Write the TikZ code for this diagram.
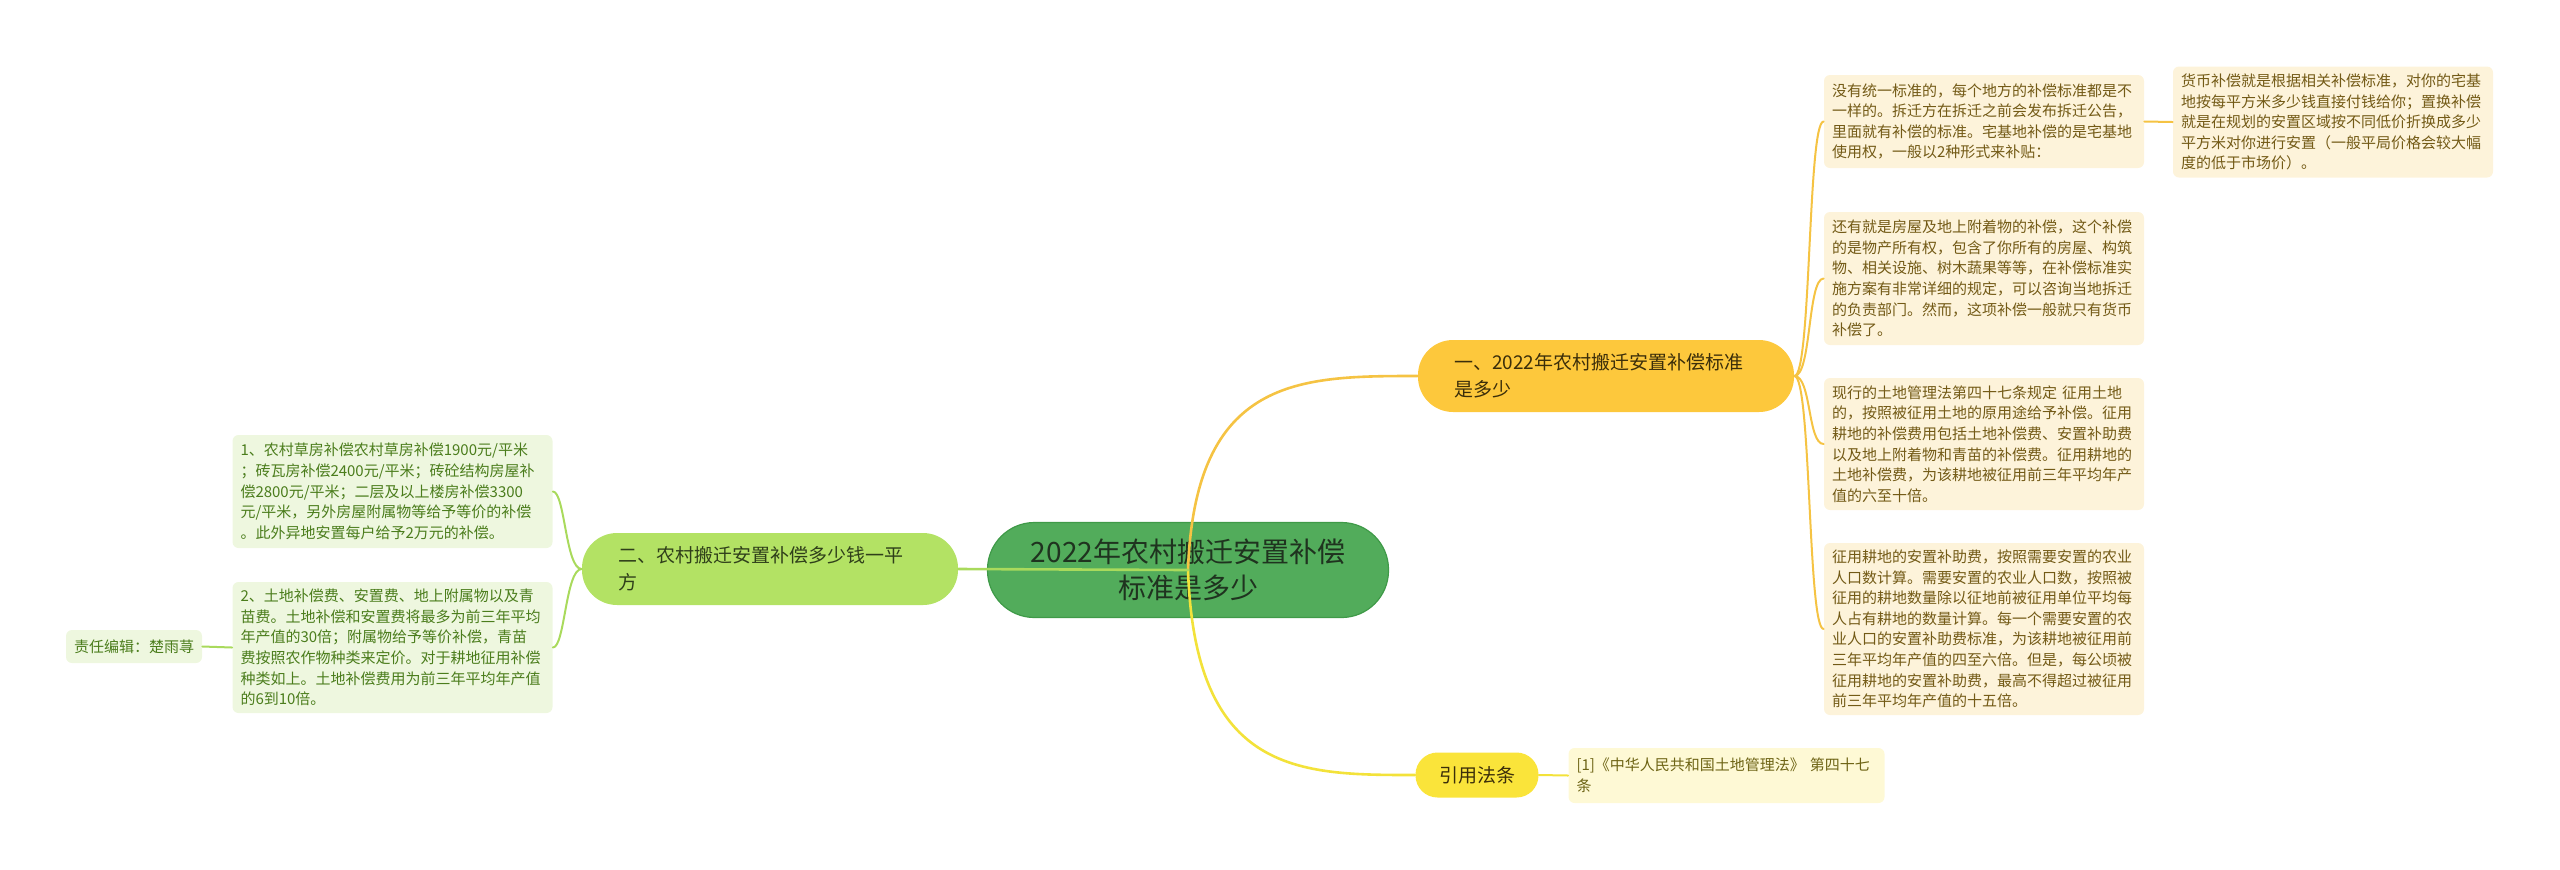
\documentclass[tikz,border=0pt]{standalone}
\usepackage{fontspec}
\setmainfont{Noto Sans CJK SC}
\usetikzlibrary{positioning}

\definecolor{mainfill}{HTML}{52AC5B}
\definecolor{mainline}{HTML}{3F9A48}
\definecolor{maintext}{HTML}{1F331F}
\definecolor{orfill}{HTML}{FDC83C}
\definecolor{ortext}{HTML}{3B2E0A}
\definecolor{orline}{HTML}{F5C343}
\definecolor{yefill}{HTML}{FAE43A}
\definecolor{yeline}{HTML}{F3E23A}
\definecolor{grfill}{HTML}{B3E264}
\definecolor{grtext}{HTML}{2F3F1A}
\definecolor{grline}{HTML}{A9DA5C}
\definecolor{creamfill}{HTML}{FDF3DA}
\definecolor{creamtext}{HTML}{735A16}
\definecolor{reffill}{HTML}{FEF9D5}
\definecolor{reftext}{HTML}{6E6415}
\definecolor{lgfill}{HTML}{EEF7DF}
\definecolor{lgtext}{HTML}{4B7D1C}

\begin{document}
\begin{tikzpicture}[x=0.5pt, y=-0.5pt, line join=round, line cap=round,
	rootnode/.style={fill=mainfill, draw=mainline, line width=0.6pt, text=maintext,
		rounded corners=23.5pt, minimum width=200.5pt, minimum height=47.5pt,
		align=center, font=\fontsize{14}{18}\selectfont},
	topicnode/.style={rounded corners=17.5pt, minimum height=36pt, inner xsep=18pt,
		text width=152pt, align=left, font=\fontsize{9.5}{13.5}\selectfont},
	leafnode/.style={rounded corners=3pt, inner xsep=4pt, text width=152pt,
		align=left, font=\fontsize{7.5}{10.3}\selectfont},
	rightleaf/.style={leafnode, fill=creamfill, text=creamtext},
	leftleaf/.style={leafnode, fill=lgfill, text=lgtext},
	bigcurve/.style={line width=1.3pt},
	smallcurve/.style={line width=1pt}]
	\useasboundingbox (0,0) rectangle (2560,869);
	% nodes
	\node[rootnode] (root) at (1188,570) {2022年农村搬迁安置补偿\\标准是多少};
	\node[topicnode, fill=orfill, text=ortext] (standard) at (1606,376)
		{一、2022年农村搬迁安置补偿标准\\是多少};
	\node[topicnode, fill=grfill, text=grtext] (price) at (770,569)
		{二、农村搬迁安置补偿多少钱一平\\方};
	\node[fill=yefill, text=ortext, rounded corners=11pt, minimum width=61.5pt,
		minimum height=22.5pt, font=\fontsize{9.5}{13.5}\selectfont] (law) at (1477,775) {引用法条};
	% right side
	\node[rightleaf, minimum height=46.5pt] (noone) at (1984,121.5)
		{没有统一标准的，每个地方的补偿标准都是不\\一样的。拆迁方在拆迁之前会发布拆迁公告，\\里面就有补偿的标准。宅基地补偿的是宅基地\\使用权，一般以2种形式来补贴：};
	\node[rightleaf, minimum height=55.5pt] (money) at (2333,122)
		{货币补偿就是根据相关补偿标准，对你的宅基\\地按每平方米多少钱直接付钱给你；置换补偿\\就是在规划的安置区域按不同低价折换成多少\\平方米对你进行安置（一般平局价格会较大幅\\度的低于市场价）。};
	\node[rightleaf, minimum height=66.5pt] (house) at (1984,278.5)
		{还有就是房屋及地上附着物的补偿，这个补偿\\的是物产所有权，包含了你所有的房屋、构筑\\物、相关设施、树木蔬果等等，在补偿标准实\\施方案有非常详细的规定，可以咨询当地拆迁\\的负责部门。然而，这项补偿一般就只有货币\\补偿了。};
	\node[rightleaf, minimum height=66pt] (landlaw) at (1984,444)
		{现行的土地管理法第四十七条规定 征用土地\\的，按照被征用土地的原用途给予补偿。征用\\耕地的补偿费用包括土地补偿费、安置补助费\\以及地上附着物和青苗的补偿费。征用耕地的\\土地补偿费，为该耕地被征用前三年平均年产\\值的六至十倍。};
	\node[rightleaf, minimum height=86pt] (resettle) at (1984,629)
		{征用耕地的安置补助费，按照需要安置的农业\\人口数计算。需要安置的农业人口数，按照被\\征用的耕地数量除以征地前被征用单位平均每\\人占有耕地的数量计算。每一个需要安置的农\\业人口的安置补助费标准，为该耕地被征用前\\三年平均年产值的四至六倍。但是，每公顷被\\征用耕地的安置补助费，最高不得超过被征用\\前三年平均年产值的十五倍。};
	\node[leafnode, fill=reffill, text=reftext, text width=150pt, minimum height=27.5pt] (lawref) at (1726.5,775.5)
		{[1]《中华人民共和国土地管理法》 第四十七\\条};
	% left side
	\node[leftleaf, minimum height=56.5pt] (house2) at (392.5,491.5)
		{1、农村草房补偿农村草房补偿1900元/平米\\；砖瓦房补偿2400元/平米；砖砼结构房屋补\\偿2800元/平米；二层及以上楼房补偿3300\\元/平米，另外房屋附属物等给予等价的补偿\\。此外异地安置每户给予2万元的补偿。};
	\node[leftleaf, minimum height=65.5pt] (landfee) at (392.5,647.5)
		{2、土地补偿费、安置费、地上附属物以及青\\苗费。土地补偿和安置费将最多为前三年平均\\年产值的30倍；附属物给予等价补偿，青苗\\费按照农作物种类来定价。对于耕地征用补偿\\种类如上。土地补偿费用为前三年平均年产值\\的6到10倍。};
	\node[fill=lgfill, text=lgtext, rounded corners=3pt, minimum width=68pt, minimum height=16.5pt,
		inner xsep=3pt, font=\fontsize{7.5}{10.3}\selectfont] (editor) at (134,646.5) {责任编辑：楚雨荨};
	% connectors
	\draw[bigcurve, orline] (root.center) .. controls (1195,376) and (1300,376) .. (standard.west);
	\draw[bigcurve, yeline] (root.center) .. controls (1195,775) and (1300,775) .. (law.west);
	\draw[bigcurve, grline] (root.center) -- (price.east);
	\foreach \leaf in {noone,house,landlaw,resettle}
		\draw[smallcurve, orline] (standard.east) .. controls +(17,0) and +(-16,0) .. (\leaf.west);
	\draw[smallcurve, orline] (noone.east) -- (money.west);
	\draw[smallcurve, yeline] (law.east) -- (lawref.west);
	\foreach \leaf in {house2,landfee}
		\draw[smallcurve, grline] (price.west) .. controls +(-16,0) and +(12,0) .. (\leaf.east);
	\draw[smallcurve, grline] (landfee.west) -- (editor.east);
\end{tikzpicture}
\end{document}
